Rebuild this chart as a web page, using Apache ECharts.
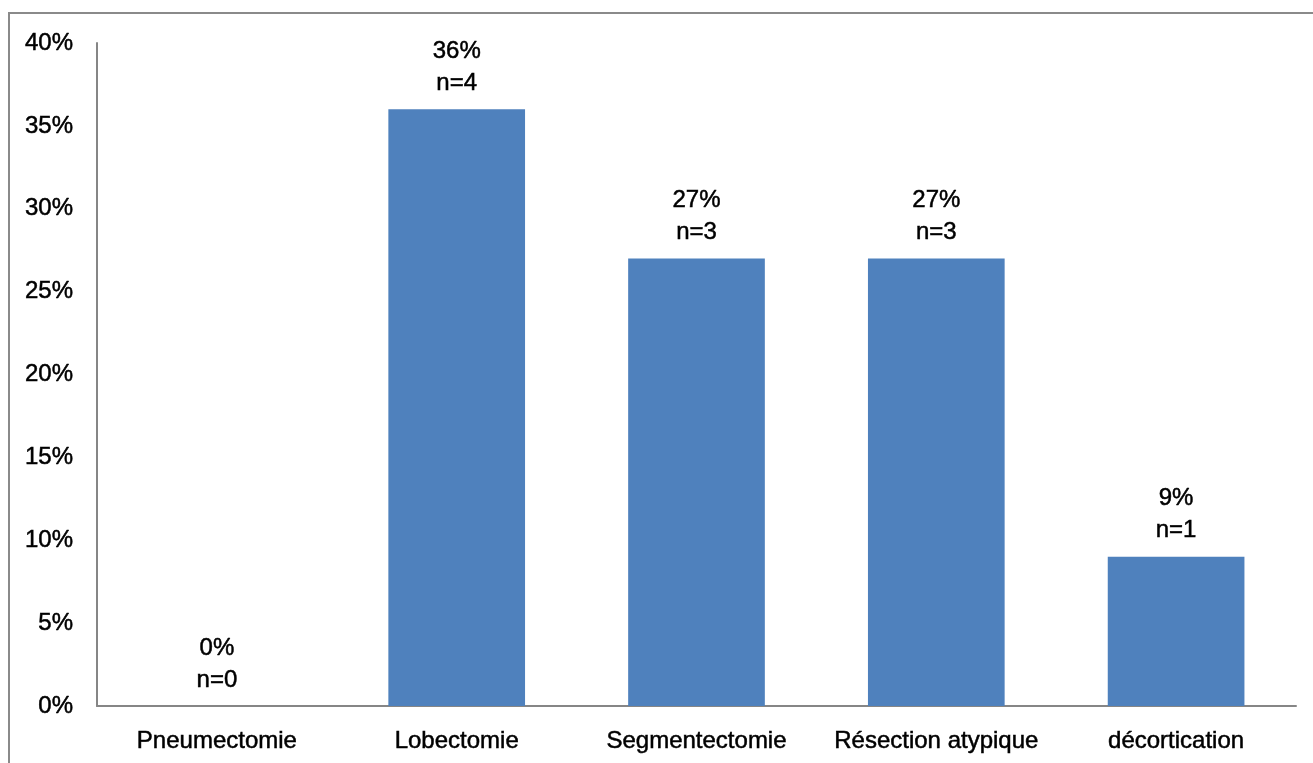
<!DOCTYPE html>
<html>
<head>
<meta charset="utf-8">
<script src="https://cdn.jsdelivr.net/npm/echarts@6/dist/echarts.min.js"></script>
<style>
  html, body { margin: 0; padding: 0; background: #fff; }
  #chart { width: 1313px; height: 763px; }
</style>
</head>
<body>
<div id="chart"></div>
<script>
// Types d'intervention chirurgicale
const categories = ['Pneumectomie', 'Lobectomie', 'Segmentectomie', 'Résection atypique', 'décortication'];
const percentages = [0, 36, 27, 27, 9];
const counts = [0, 4, 3, 3, 1];
const yTicks = { min: 0, max: 40, interval: 5 };

const font = '"Liberation Sans", Arial, sans-serif';
// shared text look: slightly heavier strokes than the plain regular weight
const textStyle = {
  color: '#000',
  fontFamily: font,
  fontSize: 24,
  textBorderColor: '#000',
  textBorderWidth: 0.5
};

const chart = echarts.init(document.getElementById('chart'), null, { renderer: 'canvas' });

chart.setOption({
  animation: false,
  backgroundColor: '#ffffff',
  graphic: [{
    type: 'rect',
    shape: { x: 9, y: 13, width: 1330, height: 800 },
    style: { fill: 'none', stroke: '#8a8a8a', lineWidth: 2 },
    silent: true
  }],
  grid: { left: 97, right: 17, top: 43, bottom: 57, containLabel: false },
  xAxis: {
    type: 'category',
    data: categories,
    axisLine: { lineStyle: { color: '#868686', width: 2 } },
    axisTick: { show: false },
    axisLabel: Object.assign({}, textStyle, { margin: 23, interval: 0 })
  },
  yAxis: {
    type: 'value',
    min: yTicks.min,
    max: yTicks.max,
    interval: yTicks.interval,
    axisLine: { show: true, lineStyle: { color: '#868686', width: 2 } },
    axisTick: { show: false },
    splitLine: { show: false },
    axisLabel: Object.assign({}, textStyle, { margin: 24, formatter: v => v + '%' })
  },
  series: [{
    type: 'bar',
    data: percentages,
    barWidth: '57%',
    itemStyle: { color: '#4F81BD' },
    label: Object.assign({}, textStyle, {
      show: true,
      position: 'top',
      distance: 10,
      lineHeight: 32,
      formatter: p => percentages[p.dataIndex] + '%\nn=' + counts[p.dataIndex]
    })
  }]
});
</script>
</body>
</html>
